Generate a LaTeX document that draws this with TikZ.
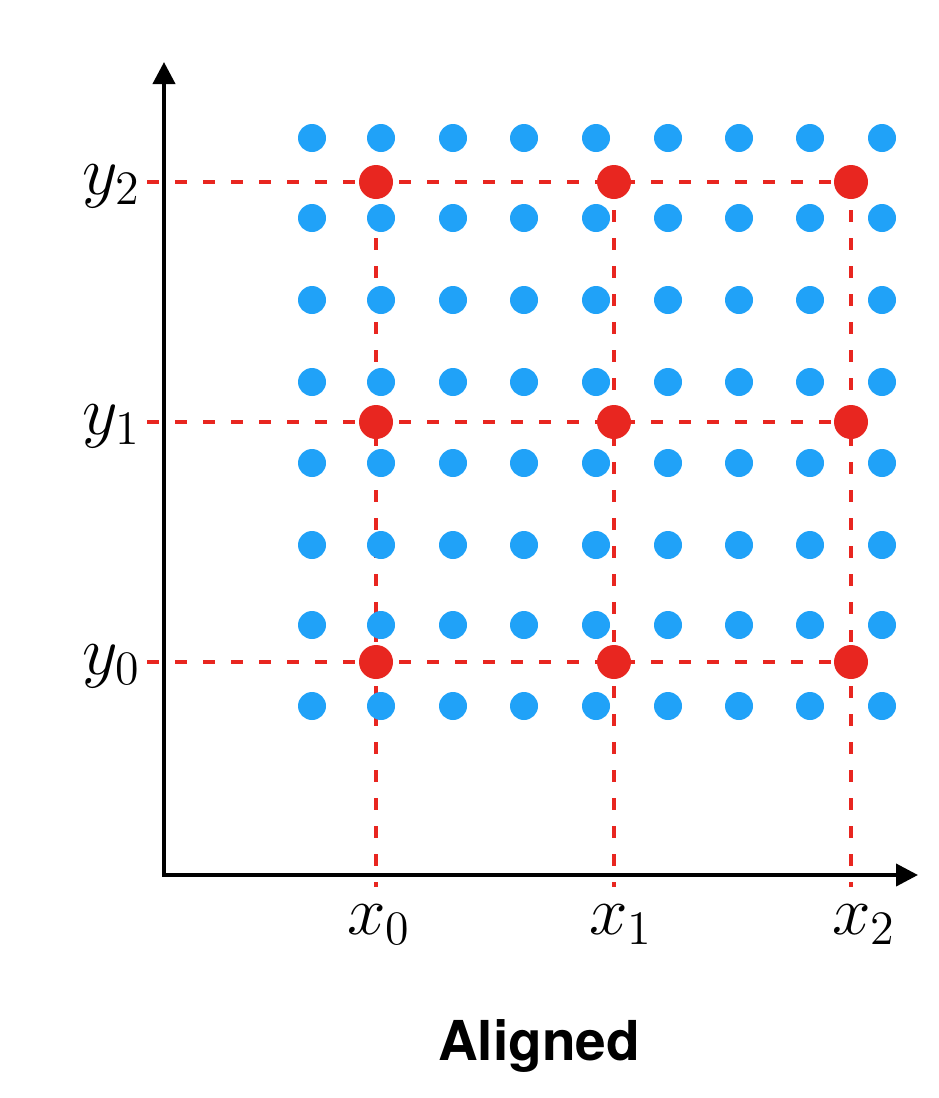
\documentclass[tikz,border=0pt]{standalone}
\usepackage{fontspec}
\newfontfamily\labelfont{TeX Gyre Heros}
\usetikzlibrary{arrows.meta}
\definecolor{dotblue}{RGB}{32,162,248}
\definecolor{dotred}{RGB}{232,38,32}
\tikzset{
  axisline/.style={line width=4pt, black, {Triangle[length=22pt,width=22pt]}-{Triangle[length=22pt,width=22pt]}},
  guide/.style={line width=4.5pt, dotred, dash pattern=on 12pt off 16pt},
  bluedot/.style={circle, fill=dotblue, inner sep=0pt, minimum size=28pt},
  reddot/.style={circle, fill=dotred, inner sep=0pt, minimum size=34pt},
  mathlabel/.style={inner sep=0pt, font=\fontsize{17}{20}\selectfont, scale=4},
}
\begin{document}
\begin{tikzpicture}[x=1pt,y=-1pt]
\useasboundingbox (0,0) rectangle (938,1098);
% axes
\coordinate (ytip) at (164,62);
\coordinate (origin) at (164,875);
\coordinate (xtip) at (918,875);
\draw[axisline] (ytip) -- (origin) -- (xtip);
% guide end points
\foreach \n/\y in {0/662,1/422,2/182}{
  \coordinate (hl\n) at (147,\y);
}
\foreach \n/\x in {0/376,1/614,2/851}{
  \coordinate (vb\n) at (\x,887);
}
% red point coordinates
\foreach \i/\x in {0/376,1/614,2/851}{
  \foreach \j/\y in {0/662,1/422,2/182}{
    \coordinate (p\i\j) at (\x,\y);
  }
}
% dashed guides
\foreach \j in {0,1,2}{ \draw[guide] (hl\j) -- (p2\j); }
\foreach \i in {0,1,2}{ \draw[guide] (p\i2) -- (vb\i); }
% blue grid
\foreach \x [count=\c] in {312,381,453,524,596,668,739,810,882}{
  \foreach \y [count=\r] in {138,218,300,382,463,545,625,706}{
    \node[bluedot] (b\c-\r) at (\x,\y) {};
  }
}
% red points
\foreach \i in {0,1,2}{
  \foreach \j in {0,1,2}{
    \node[reddot] (r\i\j) at (p\i\j) {};
  }
}
% labels
\node[mathlabel, anchor=base east] (ly2) at (142,194) {$y_2$};
\node[mathlabel, anchor=base east] (ly1) at (142,434) {$y_1$};
\node[mathlabel, anchor=base east] (ly0) at (142,674) {$y_0$};
\node[mathlabel, anchor=base] (lx0) at (379,934) {$x_0$};
\node[mathlabel, anchor=base] (lx1) at (621,934) {$x_1$};
\node[mathlabel, anchor=base] (lx2) at (864,934) {$x_2$};
\node[inner sep=0pt, anchor=base, font=\labelfont\bfseries\fontsize{55}{60}\selectfont] (title) at (539,1060) {Aligned};
\end{tikzpicture}
\end{document}
